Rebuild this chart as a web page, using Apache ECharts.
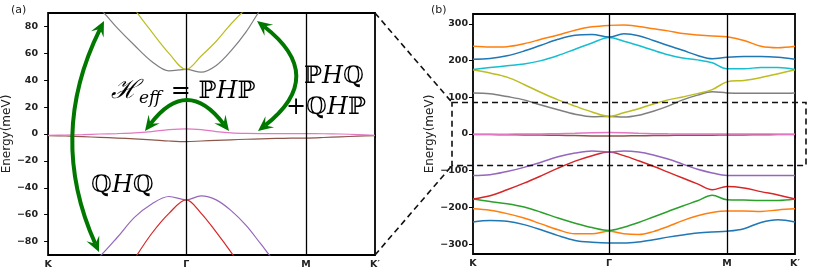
<!DOCTYPE html>
<html><head><meta charset="utf-8">
<script src="https://cdn.jsdelivr.net/npm/echarts@6/dist/echarts.min.js"></script>
<style>html,body{margin:0;padding:0;background:#fff}#c{width:814px;height:273px}</style>
</head><body><div id="c"></div>
<script>
// k-path positions (K, Γ, M, K′ at 0, 1, 1.866, 2.366)
const kpath = [0,0.125,0.25,0.375,0.5,0.625,0.75,0.875,1,1.108,1.217,1.325,1.433,1.541,1.65,1.758,1.866,1.991,2.116,2.241,2.366];
const kTicks = [0, 1, 1.866, 2.366];
const kLabels = ['K', 'Γ', 'M', 'K′'];
const yTicksA = [-80,-60,-40,-20,0,20,40,60,80];
const yTicksB = [-300,-200,-100,0,100,200,300];
const zoomWindow = [-86, 86];

// bands (meV), lowest to highest
const band0  = [-240,-236,-238,-247,-261,-277,-290,-295,-297,-297,-294,-288,-281,-275,-270,-267,-265,-258,-241,-234,-240];
const band1  = [-204,-208,-217,-229,-245,-261,-272,-272,-265,-272,-274,-266,-252,-236,-223,-214,-210,-210,-211,-207,-204];
const band2  = [-177,-184,-190,-199,-213,-229,-243,-255,-263,-254,-241,-226,-211,-196,-182,-167,-179,-180,-181,-181,-177];
const band3  = [-177,-168,-152,-134,-114,-93,-74,-59,-49,-59,-73,-88,-104,-120,-136,-152,-143,-147,-157,-166,-177];
const band4  = [-113,-111,-102,-91,-77,-62,-52,-46.5,-49,-46,-49,-57,-68,-82,-96,-106,-113,-113,-113,-113,-113];
const band5  = [-1.2,-1.5,-2,-2.5,-3,-3.6,-4.3,-5.2,-5.7,-5.2,-4.7,-4.3,-3.9,-3.6,-3.3,-3.1,-3.0,-2.6,-2.1,-1.6,-1.2];
const band6  = [-1,-0.8,-0.5,0,0.3,0.8,1.8,3.2,3.8,3.2,1.8,0.8,0.4,0.3,0.3,0.3,0.3,0.2,0,-0.4,-1];
const band7  = [112,110,102,93,79,66,54,47,48,46,51,62,76,93,106,115,112,111,111,111,112];
const band8  = [175,166,155,135,113,93,76,60,48,58,69,82,93,101,110,121,142,146,154,164,175];
const band9  = [176,181,186,191,200,214,231,248,263,253,241,228,216,207,202,194,178,178,181,181,176];
const band10 = [204,206,213,226,242,258,269,271,264,273,268,255,241,228,214,205,209,211,211,209,204];
const band11 = [239,237,238,246,258,270,283,292,296,297,293,287,281,274,270,267,265,255,239,235,239];

const bands = [band0,band1,band2,band3,band4,band5,band6,band7,band8,band9,band10,band11];
const colors = ['#1f77b4','#ff7f0e','#2ca02c','#d62728','#9467bd','#8c564b','#e377c2','#7f7f7f','#bcbd22','#17becf','#1f77b4','#ff7f0e'];

const chart = echarts.init(document.getElementById('c'), null, {renderer:'canvas'});
const minus = v => String(v).replace('-', '\u2212');
const tickFont = {fontFamily:'DejaVu Sans', fontWeight:'bold', fontSize:9.5, color:'#222'};

function xAx(gi){
  return {type:'value', gridIndex:gi, min:kTicks[0], max:kTicks[3],
    axisLine:{show:false},
    axisTick:{show:true, customValues:kTicks, length:4, lineStyle:{color:'#000', width:1}},
    axisLabel:Object.assign({show:true, customValues:kTicks, margin:5,
      formatter:v=>{let i=0,b=1e9;kTicks.forEach((t,j)=>{if(Math.abs(t-v)<b){b=Math.abs(t-v);i=j;}});return kLabels[i];}}, tickFont),
    splitLine:{show:false}};
}
function yAx(gi, mn, mx, ticks, margin, gap){
  return {type:'value', gridIndex:gi, min:mn, max:mx,
    name:'Energy(meV)', nameLocation:'middle', nameGap:gap, nameRotate:90,
    nameTextStyle:{fontFamily:'DejaVu Sans', fontSize:12, color:'#222'},
    axisLine:{show:false},
    axisTick:{show:true, customValues:ticks, length:4, lineStyle:{color:'#000', width:1}},
    axisLabel:Object.assign({show:true, customValues:ticks, margin:margin, formatter:minus}, tickFont),
    splitLine:{show:false}};
}

const series = [];
[0,1].forEach(gi=>{
  bands.forEach((b,i)=>{
    series.push({type:'line', xAxisIndex:gi, yAxisIndex:gi, data:kpath.map((k,j)=>[k,b[j]]),
      smooth:0.35, showSymbol:false, symbol:'none', clip:true,
      lineStyle:{color:colors[i], width: gi===0?1.2:1.5}, z:3,
      markLine: i===0 ? {silent:true, symbol:'none', label:{show:false}, animation:false,
        lineStyle:{color:'#000', width:1.3, type:'solid'},
        data:[{xAxis:kTicks[1]},{xAxis:kTicks[2]}]} : undefined
    });
  });
});

chart.setOption({
  animation:false,
  backgroundColor:'#fff',
  grid:[
    {left:48, top:13, width:327, height:242, show:true, borderColor:'#000', borderWidth:1.8, backgroundColor:'rgba(0,0,0,0)', containLabel:false},
    {left:473, top:14, width:322, height:240, show:true, borderColor:'#000', borderWidth:1.8, backgroundColor:'rgba(0,0,0,0)', containLabel:false}
  ],
  xAxis:[xAx(0), xAx(1)],
  yAxis:[yAx(0,-90,90,yTicksA,10,25), yAx(1,-327,327,yTicksB,5,34)],
  series:series
});

// annotations
const G = '#007800';
function arrowHead(tx,ty,dx,dy,len,wid){
  const L=Math.hypot(dx,dy); const ux=dx/L, uy=dy/L; const px=-uy, py=ux;
  const bx=tx-ux*len, by=ty-uy*len;
  return {type:'polygon', z:20, shape:{points:[[tx,ty],[bx+px*wid/2,by+py*wid/2],[tx-ux*len*0.6,ty-uy*len*0.6],[bx-px*wid/2,by-py*wid/2]]}, style:{fill:G}};
}
function dblArrow(x1,y1,cx,cy,x2,y2){
  const len=15, wid=14;
  const out=[];
  const d1x=x1-cx, d1y=y1-cy, d2x=x2-cx, d2y=y2-cy;
  const l1=Math.hypot(d1x,d1y), l2=Math.hypot(d2x,d2y);
  const s1x=x1-d1x/l1*len*0.6, s1y=y1-d1y/l1*len*0.6;
  const s2x=x2-d2x/l2*len*0.6, s2y=y2-d2y/l2*len*0.6;
  out.push({type:'bezierCurve', z:19, shape:{x1:s1x,y1:s1y,x2:s2x,y2:s2y,cpx1:cx,cpy1:cy}, style:{stroke:G, lineWidth:4, fill:null}});
  out.push(arrowHead(x1,y1,d1x,d1y,len,wid));
  out.push(arrowHead(x2,y2,d2x,d2y,len,wid));
  return out;
}
const pA_tr = chart.convertToPixel({gridIndex:0},[kTicks[3],90]);
const pA_br = chart.convertToPixel({gridIndex:0},[kTicks[3],-90]);
const rTop = chart.convertToPixel({gridIndex:1},[0,zoomWindow[1]])[1];
const rBot = chart.convertToPixel({gridIndex:1},[0,zoomWindow[0]])[1];
const rL = chart.convertToPixel({gridIndex:1},[kTicks[0],0])[0]-21;
const rR = chart.convertToPixel({gridIndex:1},[kTicks[3],0])[0]+11;
const dash = {stroke:'#111', lineWidth:1.6, lineDash:[6,4], fill:null};
const mathFont = '"DejaVu Serif", serif';
const rich = {
  n:{fontFamily:mathFont, fontSize:24, color:'#111'},
  i:{fontFamily:mathFont, fontSize:24, fontStyle:'italic', color:'#111'},
  s:{fontFamily:mathFont, fontSize:26, fontStyle:'italic', color:'#111'},
  sub:{fontFamily:mathFont, fontSize:17, fontStyle:'italic', color:'#111', padding:[14,2,0,0]}
};
const graphics = [
  {type:'rect', z:15, shape:{x:rL, y:rTop, width:rR-rL, height:rBot-rTop}, style:dash},
  {type:'line', z:15, shape:{x1:pA_tr[0], y1:pA_tr[1], x2:rL, y2:rTop}, style:dash},
  {type:'line', z:15, shape:{x1:pA_br[0], y1:pA_br[1], x2:rL, y2:rBot}, style:dash},
  {type:'text', left:11, top:5, style:{text:'(a)', font:'11px "DejaVu Sans"', fill:'#222'}},
  {type:'text', left:431, top:5, style:{text:'(b)', font:'11px "DejaVu Sans"', fill:'#222'}},
  {type:'text', z:21, x:111, y:76, style:{text:'{s|ℋ}{sub|eff}{n| = ℙ}{i|H}{n|ℙ}', rich:rich}},
  {type:'text', z:21, x:304, y:65, style:{text:'{n|ℙ}{i|H}{n|ℚ}', rich:rich}},
  {type:'text', z:21, x:286, y:96, style:{text:'{n|+ℚ}{i|H}{n|ℙ}', rich:rich}},
  {type:'text', z:21, x:91, y:174, style:{text:'{n|ℚ}{i|H}{n|ℚ}', rich:rich}}
].concat(
  dblArrow(104,21,47,136,99,252),
  dblArrow(145,131,187,76,229,131),
  dblArrow(257,21,328,76,258,131)
);
chart.setOption({graphic:graphics});
</script></body></html>
